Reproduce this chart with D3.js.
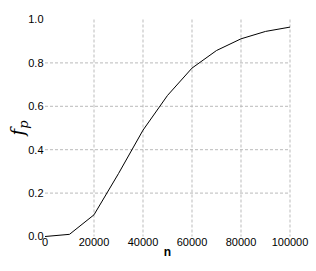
<!DOCTYPE html>
<html><head><meta charset="utf-8">
<script src="https://cdn.jsdelivr.net/npm/d3@7"></script>
<style>body{margin:0;background:#fff}svg{display:block}</style>
</head><body>
<script>
const nValues = [0,10000,20000,30000,40000,50000,60000,70000,80000,90000,100000];
const fpValues = [0.0,0.01,0.10,0.29,0.49,0.65,0.776,0.857,0.911,0.945,0.965];
const xTicks = [0,20000,40000,60000,80000,100000];
const yTicks = [0.0,0.2,0.4,0.6,0.8,1.0];

const W=316,H=271;
const svg=d3.select("body").append("svg").attr("width",W).attr("height",H);
const x=d3.scaleLinear().domain([0,100000]).range([45,290]);
const y=d3.scaleLinear().domain([0,1]).range([236.5,19.5]);

const g=svg.append("g");
// grid
g.selectAll(".vg").data(xTicks.filter(d=>d>0)).join("line")
 .attr("x1",d=>x(d)).attr("x2",d=>x(d)).attr("y1",y(1)).attr("y2",y(0))
 .attr("stroke","#bbb").attr("stroke-dasharray","3,2").attr("stroke-width",1);
g.selectAll(".hg").data(yTicks.filter(d=>d>0&&d<1)).join("line")
 .attr("x1",x(0)).attr("x2",x(100000)).attr("y1",d=>y(d)).attr("y2",d=>y(d))
 .attr("stroke","#bbb").attr("stroke-dasharray","3,2").attr("stroke-width",1);

const font="'Liberation Sans', Arial, Helvetica, sans-serif";
svg.selectAll(".yt").data(yTicks).join("text")
 .attr("x",43.5).attr("y",d=>y(d)).attr("dy","0.35em").attr("text-anchor","end")
 .attr("font-family",font).attr("font-size",11).attr("fill","#000")
 .text(d=>d3.format(".1f")(d));
svg.selectAll(".xt").data(xTicks).join("text")
 .attr("x",d=>x(d)).attr("y",242).attr("dy","0.35em").attr("text-anchor","middle")
 .attr("font-family",font).attr("font-size",11).attr("fill","#000")
 .text(d=>d);

const line=d3.line().x((d,i)=>x(nValues[i])).y(d=>y(d));
svg.append("path").datum(fpValues).attr("d",line).attr("fill","none")
 .attr("stroke","#000").attr("stroke-width",1);

svg.append("text").attr("x",167.5).attr("y",252).attr("dy","0.35em").attr("text-anchor","middle")
 .attr("font-family",font).attr("font-size",12).attr("font-weight","bold").text("n");

const yl=svg.append("text").attr("transform","translate(24,128) rotate(-90)")
 .attr("text-anchor","middle").attr("font-family","'DejaVu Serif','Liberation Serif',serif")
 .attr("font-style","italic").attr("font-size",18);
yl.append("tspan").text("f");
yl.append("tspan").attr("font-size",13).attr("dy",4).text("p");
</script>
</body></html>
